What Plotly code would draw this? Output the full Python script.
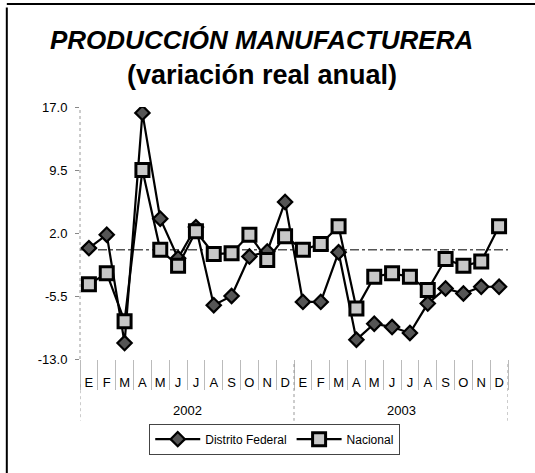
import plotly.graph_objects as go

months = ["E", "F", "M", "A", "M", "J", "J", "A", "S", "O", "N", "D"]
years = ["2002", "2003"]
distrito_federal = [0.2, 1.8, -11.1, 16.3, 3.7, -1.0, 2.7, -6.6, -5.5, -0.8, -0.2, 5.7,
                    -6.2, -6.2, -0.3, -10.7, -8.8, -9.2, -9.9, -6.4, -4.6, -5.2, -4.4, -4.4]
nacional = [-4.1, -2.8, -8.5, 9.5, 0.0, -1.9, 2.2, -0.5, -0.4, 1.8, -1.2, 1.6,
            0.0, 0.7, 2.8, -7.0, -3.2, -2.8, -3.2, -4.8, -1.1, -1.9, -1.4, 2.8]
y_ticks = [-13.0, -5.5, 2.0, 9.5, 17.0]

n = len(months) * len(years)
x_idx = list(range(n))
tick_text = [m for _ in years for m in months]

FONT = "Liberation Sans, Arial, sans-serif"

fig = go.Figure()
fig.add_trace(go.Scatter(
    x=x_idx, y=distrito_federal, name="Distrito Federal", mode="lines+markers",
    line=dict(color="black", width=2.2),
    marker=dict(symbol="diamond", size=11, color="#555555", line=dict(color="black", width=2.2)),
))
fig.add_trace(go.Scatter(
    x=x_idx, y=nacional, name="Nacional", mode="lines+markers",
    line=dict(color="black", width=2.2),
    marker=dict(symbol="square", size=13, color="#c8c8c8", line=dict(color="black", width=3)),
))

# zero reference line
fig.add_shape(type="line", xref="paper", yref="y", x0=0, x1=1, y0=0, y1=0,
              line=dict(color="#555555", width=1.5, dash="dashdot"), layer="below")
# dotted y axis line
fig.add_shape(type="line", xref="paper", yref="paper", x0=0, x1=0, y0=0, y1=1,
              line=dict(color="#999999", width=1, dash="dot"), layer="below")
# year dividers in the label area
for xv, y_top in [(-0.5, -0.1), (len(months) - 0.5, -0.02), (n - 0.5, -0.02)]:
    fig.add_shape(type="line", xref="x", yref="paper", x0=xv, x1=xv, y0=y_top, y1=-0.245,
                  line=dict(color="#999999", width=1, dash="dot"))
# year labels
for i, yr in enumerate(years):
    fig.add_annotation(text=yr, xref="x", yref="paper", x=i * len(months) + (len(months) - 1) / 2,
                       y=-0.206, showarrow=False, yanchor="middle",
                       font=dict(family=FONT, size=13, color="black"))

# outer frame (top and left)
fig.add_shape(type="line", xref="paper", yref="paper", x0=-0.171, x1=1.07, y0=1.409, y1=1.409,
              line=dict(color="black", width=2))
fig.add_shape(type="line", xref="paper", yref="paper", x0=-0.171, x1=-0.171, y0=1.395, y1=-0.48,
              line=dict(color="black", width=2))

fig.add_annotation(text="<b><i>PRODUCCIÓN MANUFACTURERA</i></b>", xref="paper", yref="paper",
                   x=0.425, y=1.266, showarrow=False, yanchor="middle",
                   font=dict(family=FONT, size=26, color="black"))
fig.add_annotation(text="<b>(variación real anual)</b>", xref="paper", yref="paper",
                   x=0.425, y=1.127, showarrow=False, yanchor="middle",
                   font=dict(family=FONT, size=27, color="black"))

fig.update_layout(
    width=535, height=473,
    margin=dict(l=80, r=27, t=107, b=114, autoexpand=False),
    paper_bgcolor="white", plot_bgcolor="white",
    font=dict(family=FONT, size=12, color="black"),
    showlegend=True,
    legend=dict(orientation="h", x=0.455, y=-0.318, xanchor="center", yanchor="middle",
                bordercolor="#444444", borderwidth=1, font=dict(size=12, family=FONT),
                itemwidth=45, tracegroupgap=0),
)
fig.update_xaxes(
    range=[-0.5, n - 0.5], tickvals=x_idx, ticktext=tick_text,
    showgrid=False, zeroline=False, showline=False, ticks="", ticklabelstandoff=14,
    minor=dict(ticks="outside", tick0=0.5, dtick=1, ticklen=30, tickcolor="#bbbbbb", tickwidth=1),
    tickfont=dict(size=13, family=FONT, color="black"),
)
fig.update_yaxes(
    range=[-13, 17], tickvals=y_ticks, ticktext=[f"{v:.1f}" for v in y_ticks],
    showgrid=False, zeroline=False, showline=False,
    ticks="outside", ticklen=4, tickcolor="#888888", ticklabelstandoff=5,
    tickfont=dict(size=13, family=FONT, color="black"),
)

fig.write_html("out.html", config={"displayModeBar": False},
               post_script="document.body.style.margin='0';")
